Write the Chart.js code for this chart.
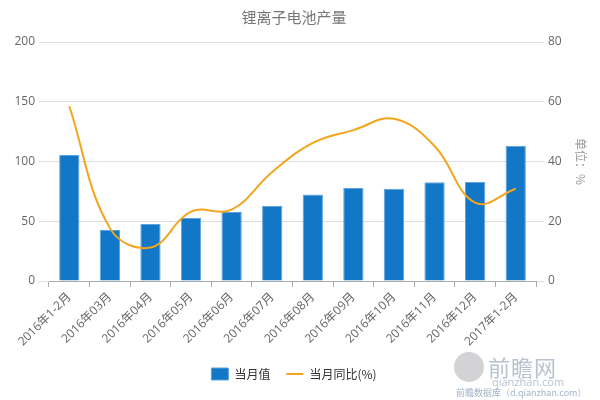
<!DOCTYPE html>
<html lang="zh">
<head>
    <meta charset="UTF-8">
    <title>锂离子电池产量</title>
    <style>
        body {
            margin: 0;
            background: #fff;
        }
        #wrap {
            position: relative;
            width: 600px;
            height: 400px;
        }
        /* watermark in the bottom right */
        .mark {
            position: absolute;
            color: #b8c3cf;
            font-family: "Noto Sans CJK SC", sans-serif;
            white-space: nowrap;
        }
        #logo {
            position: absolute;
            left: 454px;
            top: 352px;
            width: 30px;
            height: 30px;
            border-radius: 50%;
            background: #d3d3d6;
        }
    </style>
    <script src="https://cdn.jsdelivr.net/npm/chart.js"></script>
</head>
<body>
<div id="wrap">
    <canvas id="myChart" width="600" height="400"></canvas>
    <div id="logo"></div>
    <div class="mark" style="left:488px; top:350px; font-size:22px; letter-spacing:1px;">前瞻网</div>
    <div class="mark" style="left:492px; top:374px; font-size:11px; font-family:'Open Sans',sans-serif;">qianzhan.com</div>
    <div class="mark" style="left:456px; top:386px; font-size:9px; color:#9fb3c8;">前瞻数据库（d.qianzhan.com）</div>
</div>

<script>
    const months = ['2016年1-2月', '2016年03月', '2016年04月', '2016年05月', '2016年06月', '2016年07月',
        '2016年08月', '2016年09月', '2016年10月', '2016年11月', '2016年12月', '2017年1-2月'];
    const monthValue = [105.4, 42.7, 47.6, 52.7, 57.8, 62.8, 72.3, 77.8, 77.3, 82.6, 82.9, 113.1];
    const yoyPercent = [58.5, 17.7, 11.2, 23.2, 23.9, 36.5, 46.2, 50.5, 54.3, 45.2, 26.2, 30.9];
    const leftTicks = [0, 50, 100, 150, 200];
    const rightTicks = [0, 20, 40, 60, 80];

    const tickFont = { family: "'Open Sans', 'Noto Sans CJK SC', sans-serif", size: 12 };

    const ctx = document.getElementById('myChart').getContext('2d');

    new Chart(ctx, {
        data: {
            labels: months,
            datasets: [{
                type: 'line',
                label: '当月同比(%)',
                data: yoyPercent,
                yAxisID: 'y1',
                borderColor: '#f3a51d',
                backgroundColor: '#f3a51d',
                borderWidth: 2,
                pointRadius: 0,
                tension: 0.4,
                pointStyle: 'line',
                order: 0
            }, {
                type: 'bar',
                label: '当月值',
                data: monthValue,
                yAxisID: 'y',
                backgroundColor: '#1277c7',
                borderColor: '#5fa3dc',
                borderWidth: 1,
                categoryPercentage: 0.5,
                barPercentage: 1,
                pointStyle: 'rect',
                order: 1
            }]
        },
        options: {
            responsive: false,
            animation: false,
            layout: {
                padding: { top: 0, bottom: 10, left: 0, right: 12 }
            },
            plugins: {
                title: {
                    display: true,
                    text: '锂离子电池产量',
                    color: '#777',
                    font: { family: "'Noto Sans CJK SC', sans-serif", size: 15, weight: 'normal' },
                    padding: { top: 8, bottom: 16 }
                },
                legend: {
                    position: 'bottom',
                    reverse: true,
                    labels: {
                        usePointStyle: true,
                        pointStyleWidth: 17,
                        boxHeight: 13,
                        padding: 16,
                        color: '#333',
                        font: { family: "'Noto Sans CJK SC', sans-serif", size: 12 }
                    }
                },
                tooltip: { enabled: false }
            },
            scales: {
                x: {
                    grid: {
                        drawOnChartArea: false,
                        drawTicks: true,
                        tickLength: 6,
                        color: '#aaa'
                    },
                    border: { color: '#aaa' },
                    ticks: {
                        color: '#666',
                        font: tickFont,
                        maxRotation: 45,
                        minRotation: 45,
                        autoSkip: false
                    }
                },
                y: {
                    position: 'left',
                    min: 0,
                    max: 200,
                    afterBuildTicks: axis => { axis.ticks = leftTicks.map(v => ({ value: v })); },
                    afterFit: axis => { axis.width = 49; },
                    grid: { color: '#ddd', tickLength: 10 },
                    border: { display: false },
                    ticks: { color: '#666', font: tickFont, padding: 4 }
                },
                y1: {
                    position: 'right',
                    min: 0,
                    max: 80,
                    afterBuildTicks: axis => { axis.ticks = rightTicks.map(v => ({ value: v })); },
                    afterFit: axis => { axis.width = 52; },
                    grid: { drawOnChartArea: false, color: '#ddd', tickLength: 8 },
                    border: { display: false },
                    ticks: { color: '#666', font: tickFont, padding: 4 },
                    title: {
                        display: true,
                        text: '单位：%',
                        color: '#999',
                        font: { family: "'Noto Sans CJK SC', sans-serif", size: 12 },
                        padding: 0
                    }
                }
            }
        }
    });
</script>
</body>
</html>
